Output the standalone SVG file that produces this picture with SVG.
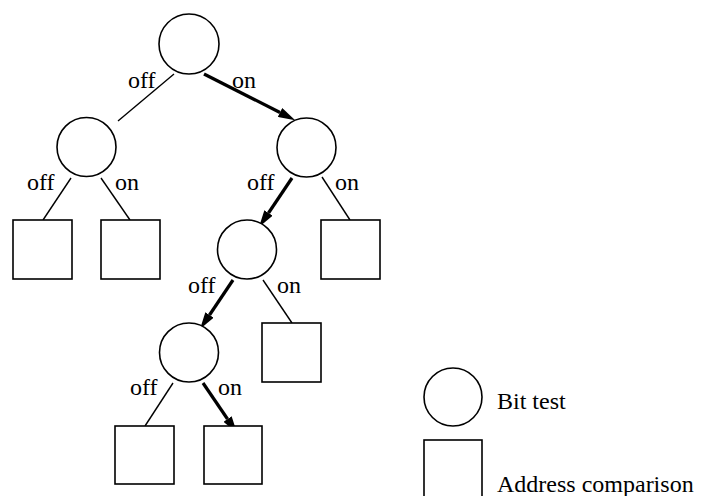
<svg xmlns="http://www.w3.org/2000/svg" width="709" height="496" viewBox="0 0 709 496">
  <style>
    .bit { fill: #fff; stroke: #000; stroke-width: 1.6; }
    .cmp { fill: #fff; stroke: #000; stroke-width: 1.6; }
    .edge { fill: none; stroke: #000; stroke-width: 1.4; }
    .path { fill: none; stroke: #000; stroke-width: 3.2; marker-end: url(#head); }
    text { font-family: "Liberation Serif", "Times New Roman", serif; font-size: 24px; fill: #000; }
    .legend { font-size: 24px; }
  </style>
  <defs>
    <marker id="head" viewBox="0 0 17 10" markerWidth="17" markerHeight="10" markerUnits="userSpaceOnUse" refX="0" refY="5" orient="auto">
      <path d="M0,0 L17,5 L0,10 z" fill="#000"/>
    </marker>
  </defs>

  <!-- connectors: thin edges and the bold taken path -->
  <g id="connectors">
    <line class="edge" x1="174" y1="74" x2="118" y2="121"/>
    <line class="path" x1="204" y1="74" x2="280" y2="112.5"/>
    <line class="edge" x1="71" y1="178" x2="43" y2="220"/>
    <line class="edge" x1="101" y1="178" x2="130" y2="220"/>
    <line class="path" x1="292" y1="178" x2="268.5" y2="213"/>
    <line class="edge" x1="322" y1="177" x2="350" y2="220"/>
    <line class="path" x1="233" y1="280" x2="209.5" y2="315"/>
    <line class="edge" x1="263" y1="280" x2="292" y2="323"/>
    <line class="edge" x1="173" y1="383" x2="145" y2="426"/>
    <line class="path" x1="203" y1="383" x2="227.5" y2="419"/>
  </g>

  <!-- edge labels -->
  <g id="labels">
    <text x="128" y="88">off</text>
    <text x="232" y="88">on</text>
    <text x="27" y="190">off</text>
    <text x="115" y="190">on</text>
    <text x="247" y="190">off</text>
    <text x="335" y="190">on</text>
    <text x="188" y="293">off</text>
    <text x="277" y="293">on</text>
    <text x="130" y="395">off</text>
    <text x="218" y="395">on</text>
  </g>

  <!-- bit test nodes -->
  <g id="n-root"><circle class="bit" cx="189" cy="44" r="30"/></g>
  <g id="n-l"><circle class="bit" cx="86.5" cy="147" r="29.5"/></g>
  <g id="n-r"><circle class="bit" cx="306.5" cy="147.5" r="29.5"/></g>
  <g id="n-rl"><circle class="bit" cx="247" cy="249.5" r="29.5"/></g>
  <g id="n-rll"><circle class="bit" cx="189" cy="352.5" r="29.5"/></g>

  <!-- address comparison leaves -->
  <g id="leaf-ll"><rect class="cmp" x="13" y="220" width="59" height="59"/></g>
  <g id="leaf-lr"><rect class="cmp" x="101" y="220" width="59" height="59"/></g>
  <g id="leaf-rr"><rect class="cmp" x="321" y="220" width="59" height="59"/></g>
  <g id="leaf-rlr"><rect class="cmp" x="262" y="323" width="59" height="59"/></g>
  <g id="leaf-rlll"><rect class="cmp" x="115" y="426" width="59" height="58"/></g>
  <g id="leaf-rllr"><rect class="cmp" x="204" y="426" width="58" height="58"/></g>

  <!-- legend -->
  <g id="legend-bit">
    <circle class="bit" cx="453" cy="397" r="29"/>
    <text class="legend" x="497" y="409">Bit test</text>
  </g>
  <g id="legend-cmp">
    <rect class="cmp" x="424" y="440" width="58" height="70"/>
    <text class="legend" x="497" y="492">Address comparison</text>
  </g>
</svg>
